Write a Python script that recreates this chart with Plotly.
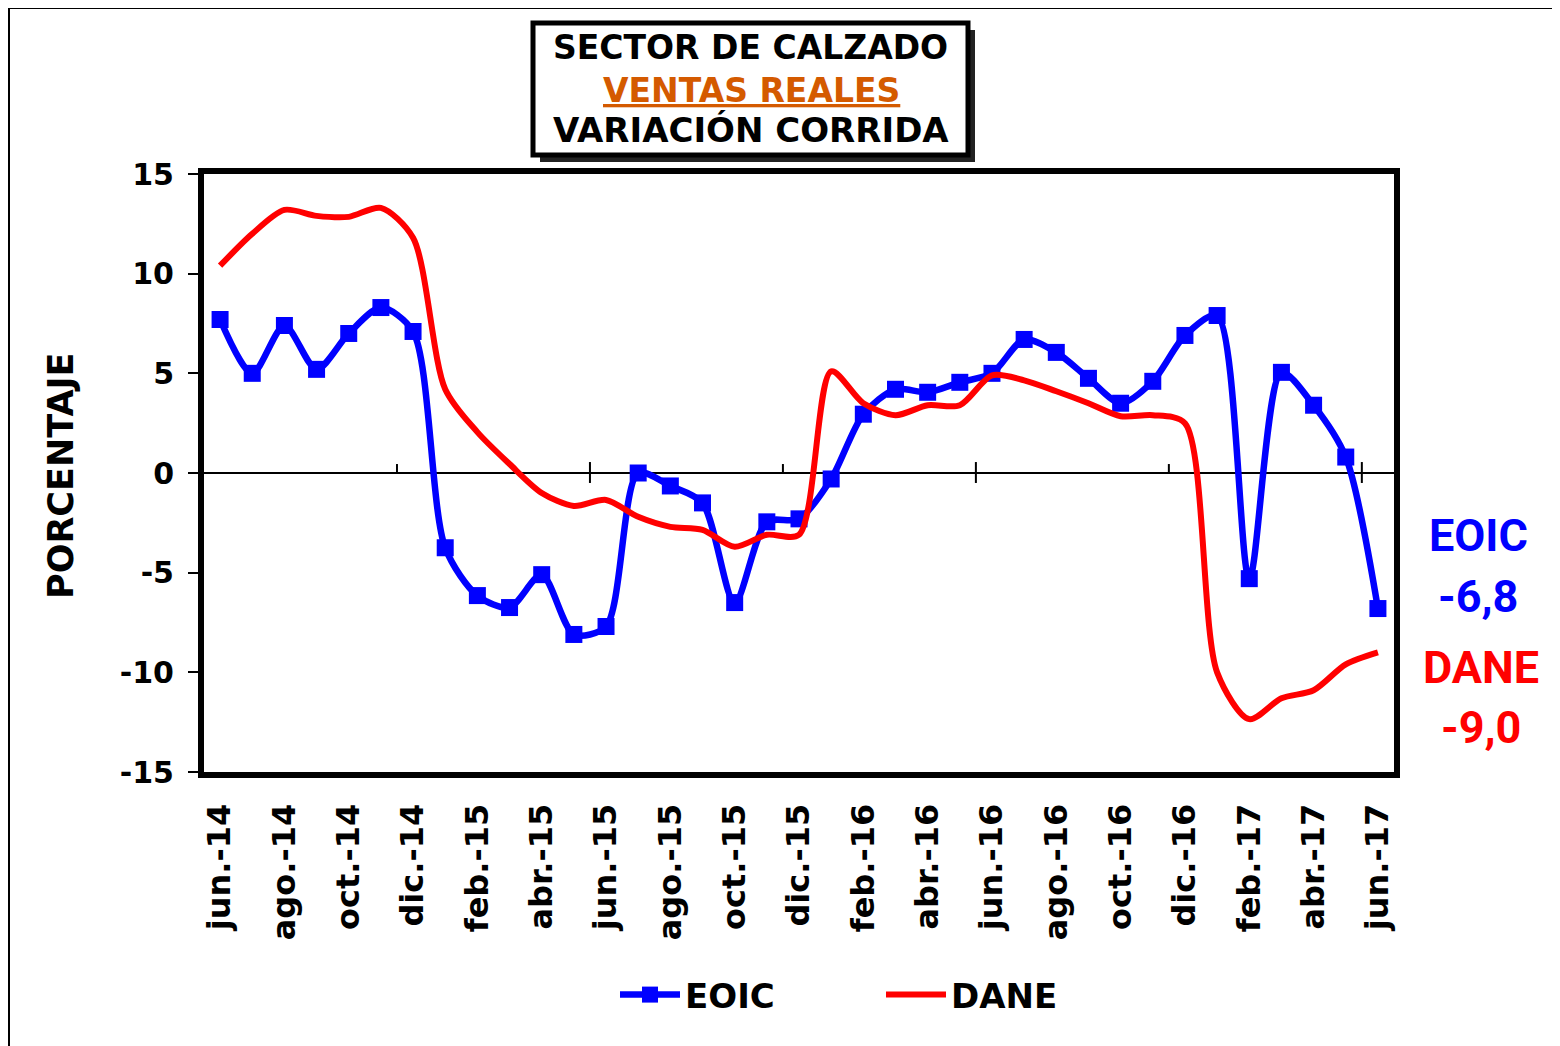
import plotly.graph_objects as go

# monthly labels jun-14 .. jun-17
meses = ["jun.-14", "jul.-14", "ago.-14", "sep.-14", "oct.-14", "nov.-14", "dic.-14",
         "ene.-15", "feb.-15", "mar.-15", "abr.-15", "may.-15", "jun.-15", "jul.-15",
         "ago.-15", "sep.-15", "oct.-15", "nov.-15", "dic.-15", "ene.-16", "feb.-16",
         "mar.-16", "abr.-16", "may.-16", "jun.-16", "jul.-16", "ago.-16", "sep.-16",
         "oct.-16", "nov.-16", "dic.-16", "ene.-17", "feb.-17", "mar.-17", "abr.-17",
         "may.-17", "jun.-17"]

eoic = [7.7, 5.0, 7.4, 5.2, 7.0, 8.3, 7.1,
        -3.75, -6.15, -6.75, -5.1, -8.1, -7.7, 0.0,
        -0.65, -1.5, -6.5, -2.45, -2.3, -0.3, 2.95,
        4.2, 4.05, 4.55, 5.0, 6.7, 6.05, 4.75,
        3.5, 4.6, 6.9, 7.9, -5.3, 5.05, 3.4,
        0.8, -6.8]

dane = [10.4, 12.0, 13.2, 12.9, 12.85, 13.3, 11.8,
        4.2, 2.05, 0.45, -1.0, -1.65, -1.35, -2.2,
        -2.7, -2.85, -3.7, -3.1, -3.1, 5.1, 3.5,
        2.9, 3.4, 3.4, 4.9, 4.65, 4.1, 3.5,
        2.85, 2.9, 2.5, -10.0, -12.35, -11.3, -10.9,
        -9.6, -9.0]

x = list(range(len(meses)))

# page adds an 8px body margin, so the figure is drawn 8px smaller / shifted
OFF = 8
W, H = 1560 - OFF, 1046 - OFF
# plot area in reference pixels
L, R, T, B = 204, 1394, 174, 772


def px(xp):
    return (xp - L) / (R - L)


def py(yp):
    return (B - yp) / (B - T)


fig = go.Figure()

fig.add_trace(go.Scatter(
    x=x, y=eoic, name="<b>EOIC</b>", mode="lines+markers",
    line=dict(color="#0000FF", width=6.5, shape="spline", smoothing=0.8),
    marker=dict(symbol="square", size=17, color="#0000FF", line=dict(width=0)),
))
fig.add_trace(go.Scatter(
    x=x, y=dane, name="<b>DANE</b>", mode="lines",
    line=dict(color="#FF0000", width=6, shape="spline", smoothing=0.8),
))

shapes = []
# small tick marks on the zero line every 6 months
for k, b in enumerate(range(6, len(meses), 6)):
    y0 = -0.5 if k % 2 else 0.0
    y1 = 0.55 if k % 2 else 0.45
    shapes.append(dict(type="line", xref="x", yref="y", x0=b - 0.5, x1=b - 0.5,
                       y0=y0, y1=y1, line=dict(color="black", width=2)))

# outer chart border
shapes.append(dict(type="rect", xref="paper", yref="paper", layer="below",
                   x0=px(9), x1=px(1620), y0=py(1100), y1=py(8),
                   line=dict(color="black", width=2)))
# title box with shadow
shapes.append(dict(type="rect", xref="paper", yref="paper",
                   x0=px(540), x1=px(975), y0=py(162), y1=py(30),
                   fillcolor="#222222", line=dict(width=0)))
shapes.append(dict(type="rect", xref="paper", yref="paper",
                   x0=px(533), x1=px(968), y0=py(155), y1=py(23),
                   fillcolor="white", line=dict(color="black", width=5)))

title_font = dict(family="DejaVu Sans", size=33, color="black")
annotations = [
    dict(text="<b>SECTOR DE CALZADO</b>", x=px(750), y=py(48), font=title_font),
    dict(text="<b><u>VENTAS REALES</u></b>", x=px(751), y=py(90),
         font=dict(family="DejaVu Sans", size=33, color="#D45A00")),
    dict(text="<b>VARIACIÓN CORRIDA</b>", x=px(751), y=py(130),
         font=dict(family="DejaVu Sans", size=34, color="black")),
    dict(text="<b>PORCENTAJE</b>", x=px(61), y=py(476), textangle=-90,
         font=dict(family="DejaVu Sans", size=35, color="black")),
    dict(text="<b>EOIC</b>", x=px(1478), y=py(535),
         font=dict(family="Roboto", size=45, color="#0000FF")),
    dict(text="<b>" + f"{eoic[-1]:.1f}".replace(".", ",") + "</b>", x=px(1478), y=py(596),
         font=dict(family="Roboto", size=45, color="#0000FF")),
    dict(text="<b>DANE</b>", x=px(1481), y=py(667),
         font=dict(family="Roboto", size=45, color="#FF0000")),
    dict(text="<b>" + f"{dane[-1]:.1f}".replace(".", ",") + "</b>", x=px(1481), y=py(727),
         font=dict(family="Roboto", size=45, color="#FF0000")),
]
for a in annotations:
    a.update(xref="paper", yref="paper", showarrow=False, xanchor="center", yanchor="middle")

fig.update_layout(
    width=W, height=H,
    margin=dict(l=L - OFF, r=W - (R - OFF), t=T - OFF, b=H - (B - OFF)),
    paper_bgcolor="white", plot_bgcolor="white",
    font=dict(family="DejaVu Sans", color="black"),
    shapes=shapes,
    annotations=annotations,
    showlegend=True,
    legend=dict(orientation="h", x=px(615), y=py(995), xanchor="left", yanchor="middle",
                font=dict(family="DejaVu Sans", size=34, color="black"),
                entrywidth=191, entrywidthmode="pixels", itemwidth=60),
)

fig.update_xaxes(
    range=[-0.5, len(meses) - 0.5],
    tickvals=x[::2], ticktext=["<b>%s</b>" % m for m in meses[::2]],
    tickangle=-90, tickfont=dict(family="DejaVu Sans", size=32, color="black"),
    ticks="", ticklabelstandoff=13,
    showline=True, linecolor="black", linewidth=6, mirror=True,
    showgrid=False, zeroline=False,
)
fig.update_yaxes(
    range=[-15, 15],
    tickvals=[-15, -10, -5, 0, 5, 10, 15],
    ticktext=["<b>%d</b>" % v for v in [-15, -10, -5, 0, 5, 10, 15]],
    tickfont=dict(family="DejaVu Sans", size=30, color="black"),
    ticks="outside", ticklen=10, tickwidth=2, tickcolor="black", ticklabelstandoff=8,
    showline=True, linecolor="black", linewidth=6, mirror=True,
    showgrid=False, zeroline=True, zerolinecolor="black", zerolinewidth=2,
)

fig.write_html("out.html")
